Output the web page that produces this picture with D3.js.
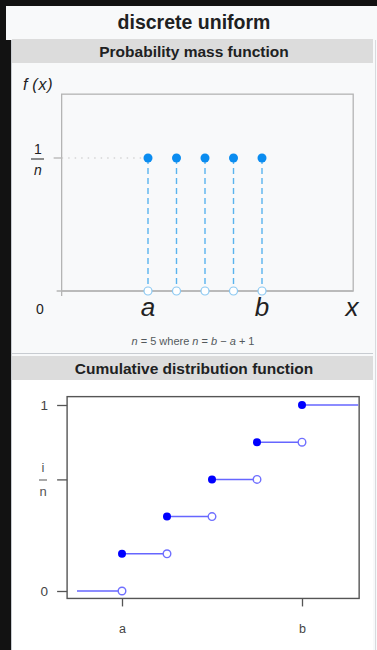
<!DOCTYPE html>
<html>
<head>
<meta charset="utf-8">
<script src="https://cdn.jsdelivr.net/npm/d3@7"></script>
<style>
  html, body { margin: 0; padding: 0; background: #121212; }
  svg { display: block; font-family: "Liberation Sans", Arial, sans-serif; }
</style>
</head>
<body>
<div id="main"></div>
<script>
// pmf: support points a..b and their mass
const pmfX = [1, 2, 3, 4, 5];
const pmfY = [0.2, 0.2, 0.2, 0.2, 0.2];
const pmfXTicks = [1, 5];
const pmfXTickLabels = ['a', 'b'];

// cdf: step segments
const cdfStart = [0, 1, 2, 3, 4, 5];
const cdfEnd = [1, 2, 3, 4, 5, 6.25];
const cdfValue = [0, 0.2, 0.4, 0.6, 0.8, 1];
const cdfXTicks = [1, 5];
const cdfXTickLabels = ['a', 'b'];
const cdfYTicks = [0, 0.6, 1];

const width = 377, height = 650;
const svg = d3.select('#main').append('svg')
    .attr('width', width)
    .attr('height', height);

// infobox frame
svg.append('rect').attr('x', 6).attr('y', 6).attr('width', 371).attr('height', 644).attr('fill', '#f8f9fa');
svg.append('rect').attr('x', 0).attr('y', 40).attr('width', 11).attr('height', 610).attr('fill', '#121212');
svg.append('line').attr('x1', 11.5).attr('x2', 11.5).attr('y1', 40).attr('y2', 650).attr('stroke', '#c8ccd1');
svg.append('line').attr('x1', 375.5).attr('x2', 375.5).attr('y1', 40).attr('y2', 650).attr('stroke', '#d8dade');

svg.append('text')
    .attr('x', 194).attr('y', 29)
    .attr('text-anchor', 'middle')
    .attr('font-size', 19.5).attr('font-weight', 'bold').attr('fill', '#202122')
    .text('discrete uniform');

function header(y, label) {
    svg.append('rect').attr('x', 12).attr('y', y).attr('width', 361).attr('height', 24).attr('fill', '#dcdcdc');
    svg.append('text')
        .attr('x', 194).attr('y', y + 18)
        .attr('text-anchor', 'middle')
        .attr('font-size', 15.5).attr('font-weight', 'bold').attr('fill', '#202122')
        .text(label);
}
header(39, 'Probability mass function');
svg.append('line').attr('x1', 12).attr('x2', 373).attr('y1', 353.5).attr('y2', 353.5).attr('stroke', '#c8ccd1');
header(356, 'Cumulative distribution function');
svg.append('rect').attr('x', 12).attr('y', 380).attr('width', 361).attr('height', 270).attr('fill', '#ffffff');

// ---------- PMF ----------
const px = d3.scaleLinear().domain([1, 5]).range([148, 262]);
const py = d3.scaleLinear().domain([0, 0.2]).range([291, 158]);
const pmf = svg.append('g');
const pLeft = px(-2.03), pRight = px(8.2), pTop = py(0.296), pBottom = py(0);

pmf.append('rect')
    .attr('x', pLeft).attr('y', pTop)
    .attr('width', pRight - pLeft).attr('height', pBottom - pTop)
    .attr('fill', 'none').attr('stroke', '#b4b4b4').attr('stroke-width', 1.3);
pmf.append('line').attr('x1', pLeft - 5).attr('x2', pRight).attr('y1', pBottom).attr('y2', pBottom)
    .attr('stroke', '#b4b4b4').attr('stroke-width', 1.3);
pmf.append('line').attr('x1', pLeft).attr('x2', pLeft).attr('y1', pBottom).attr('y2', pBottom + 5)
    .attr('stroke', '#b4b4b4').attr('stroke-width', 1.3);
pmf.append('line').attr('x1', pLeft - 8).attr('x2', pLeft).attr('y1', py(0.2)).attr('y2', py(0.2))
    .attr('stroke', '#b4b4b4').attr('stroke-width', 1.3);
pmf.append('line').attr('x1', pLeft).attr('x2', px(pmfX[0])).attr('y1', py(0.2)).attr('y2', py(0.2))
    .attr('stroke', '#c4c4c4').attr('stroke-width', 1.2).attr('stroke-dasharray', '1.5,5');

pmf.selectAll('line.stem').data(pmfX).enter().append('line')
    .attr('class', 'stem')
    .attr('x1', d => px(d)).attr('x2', d => px(d))
    .attr('y1', (d, i) => py(pmfY[i])).attr('y2', pBottom)
    .attr('stroke', '#5ab4ee').attr('stroke-width', 1.4).attr('stroke-dasharray', '6,4');
pmf.selectAll('circle.open').data(pmfX).enter().append('circle')
    .attr('cx', d => px(d)).attr('cy', pBottom).attr('r', 4)
    .attr('fill', '#fff').attr('stroke', '#8cc9f2').attr('stroke-width', 1.2);
pmf.selectAll('circle.fill').data(pmfX).enter().append('circle')
    .attr('cx', d => px(d)).attr('cy', (d, i) => py(pmfY[i])).attr('r', 4.5)
    .attr('fill', '#0a8cf0');

pmf.append('text').attr('x', 23).attr('y', 90)
    .attr('font-size', 16).attr('font-style', 'italic').attr('fill', '#222')
    .attr('letter-spacing', 0.8)
    .text('f\u2009(x)');
pmf.append('text').attr('x', 38).attr('y', 154).attr('text-anchor', 'middle')
    .attr('font-size', 14).attr('fill', '#222').text('1');
pmf.append('line').attr('x1', 31).attr('x2', 44).attr('y1', 159).attr('y2', 159)
    .attr('stroke', '#444').attr('stroke-width', 1.2);
pmf.append('text').attr('x', 38).attr('y', 175).attr('text-anchor', 'middle')
    .attr('font-size', 14).attr('font-style', 'italic').attr('fill', '#222').text('n');
pmf.append('text').attr('x', 40).attr('y', 314).attr('text-anchor', 'middle')
    .attr('font-size', 14).attr('fill', '#222').text('0');
pmf.selectAll('text.xt').data(pmfXTicks).enter().append('text')
    .attr('x', d => px(d)).attr('y', 316).attr('text-anchor', 'middle')
    .attr('font-size', 26).attr('font-style', 'italic').attr('fill', '#222')
    .text((d, i) => pmfXTickLabels[i]);
pmf.append('text').attr('x', 352).attr('y', 316).attr('text-anchor', 'middle')
    .attr('font-size', 26).attr('font-style', 'italic').attr('fill', '#222').text('x');

const note = pmf.append('text').attr('x', 193).attr('y', 345).attr('text-anchor', 'middle')
    .attr('font-size', 11).attr('fill', '#54595d');
note.append('tspan').attr('font-style', 'italic').text('n');
note.append('tspan').text(' = 5 where ');
note.append('tspan').attr('font-style', 'italic').text('n');
note.append('tspan').text(' = ');
note.append('tspan').attr('font-style', 'italic').text('b');
note.append('tspan').text(' \u2212 ');
note.append('tspan').attr('font-style', 'italic').text('a');
note.append('tspan').text(' + 1');

// ---------- CDF ----------
const cx = d3.scaleLinear().domain([1, 5]).range([122, 302]);
const cy = d3.scaleLinear().domain([0, 1]).range([591, 405]);
const cdf = svg.append('g');
const cLeft = cx(-0.22), cRight = cx(6.27), cTop = cy(1.045), cBottom = cy(-0.04);

cdf.append('rect')
    .attr('x', cLeft).attr('y', cTop)
    .attr('width', cRight - cLeft).attr('height', cBottom - cTop)
    .attr('fill', 'none').attr('stroke', '#555').attr('stroke-width', 1.4);

const yAxis = cdf.append('g')
    .attr('transform', `translate(${cLeft},0)`)
    .call(d3.axisLeft(cy).tickValues(cdfYTicks).tickSize(10).tickFormat(d => d === 0.6 ? '' : d3.format('d')(d)));
const xAxis = cdf.append('g')
    .attr('transform', `translate(0,${cBottom})`)
    .call(d3.axisBottom(cx).tickValues(cdfXTicks).tickSize(8).tickFormat((d, i) => cdfXTickLabels[i]));
[yAxis, xAxis].forEach(ax => {
    ax.select('.domain').remove();
    ax.selectAll('line').attr('stroke', '#555').attr('stroke-width', 1.3);
    ax.selectAll('text').attr('fill', '#444').attr('font-size', 12)
        .attr('font-family', '"Liberation Sans", Arial, sans-serif');
});
yAxis.selectAll('text').attr('dx', '-6').attr('font-size', 13.5);
xAxis.selectAll('text').attr('dy', '1.9em').attr('font-size', 12.5);

// i/n fraction label
cdf.append('text').attr('x', 43).attr('y', 472).attr('text-anchor', 'middle')
    .attr('font-size', 13).attr('fill', '#555').text('i');
cdf.append('line').attr('x1', 39).attr('x2', 47).attr('y1', 480).attr('y2', 480)
    .attr('stroke', '#555').attr('stroke-width', 1);
cdf.append('text').attr('x', 43).attr('y', 496).attr('text-anchor', 'middle')
    .attr('font-size', 13).attr('fill', '#555').text('n');

cdf.selectAll('line.step').data(cdfValue).enter().append('line')
    .attr('class', 'step')
    .attr('x1', (d, i) => cx(cdfStart[i])).attr('x2', (d, i) => Math.min(cx(cdfEnd[i]), cRight))
    .attr('y1', d => cy(d)).attr('y2', d => cy(d))
    .attr('stroke', '#6666ff').attr('stroke-width', 1.5);
cdf.selectAll('circle.open').data(cdfValue.slice(0, 5)).enter().append('circle')
    .attr('cx', (d, i) => cx(cdfEnd[i])).attr('cy', d => cy(d)).attr('r', 3.8)
    .attr('fill', '#fff').attr('stroke', '#6f6fff').attr('stroke-width', 1.4);
cdf.selectAll('circle.fill').data(cdfValue.slice(1)).enter().append('circle')
    .attr('cx', (d, i) => cx(cdfStart[i + 1])).attr('cy', d => cy(d)).attr('r', 4)
    .attr('fill', '#0000ff');
</script>
</body>
</html>
